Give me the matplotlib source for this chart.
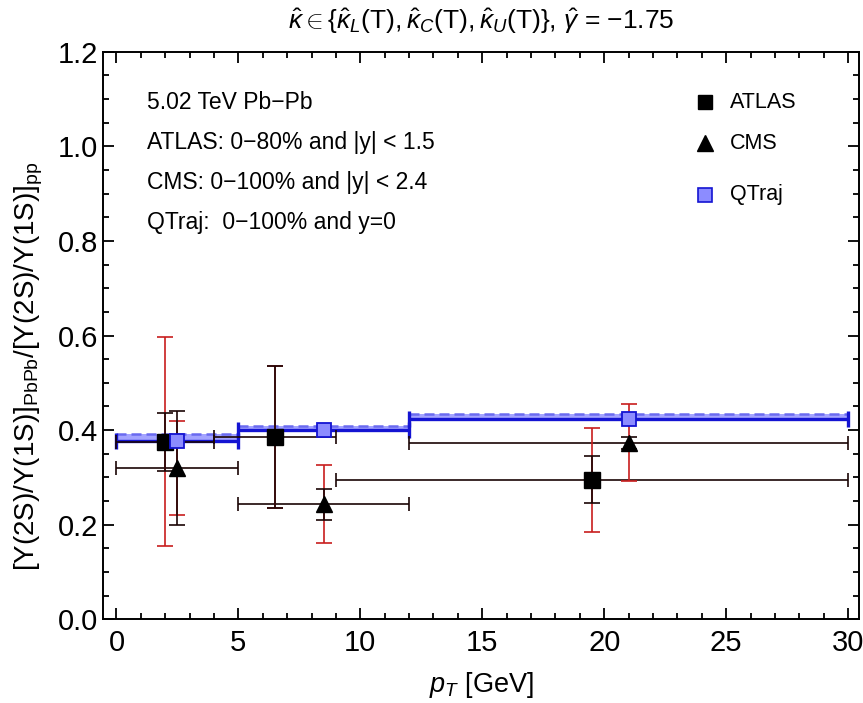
import numpy as np
import matplotlib
matplotlib.use("Agg")
import matplotlib.pyplot as plt
from matplotlib.lines import Line2D

plt.rcParams["font.family"] = ["Liberation Sans", "DejaVu Sans"]
plt.rcParams["mathtext.fontset"] = "custom"
plt.rcParams["mathtext.rm"] = "Liberation Sans"
plt.rcParams["mathtext.it"] = "Liberation Sans:italic"
plt.rcParams["mathtext.bf"] = "Liberation Sans:bold"

# ATLAS (0-80%, |y|<1.5)
atlas_pt = [2.0, 6.5, 19.5]
atlas_lo = [0.0, 4.0, 9.0]
atlas_hi = [4.0, 9.0, 30.0]
atlas_val = [0.375, 0.386, 0.295]
atlas_stat_up = [0.436, 0.536, 0.345]
atlas_stat_dn = [0.314, 0.236, 0.245]
atlas_sys_up = [0.596, 0.536, 0.405]
atlas_sys_dn = [0.155, 0.236, 0.185]

# CMS (0-100%, |y|<2.4)
cms_pt = [2.5, 8.5, 21.0]
cms_lo = [0.0, 5.0, 12.0]
cms_hi = [5.0, 12.0, 30.0]
cms_val = [0.320, 0.244, 0.373]
cms_stat_up = [0.440, 0.275, 0.385]
cms_stat_dn = [0.199, 0.211, 0.361]
cms_sys_up = [0.420, 0.326, 0.455]
cms_sys_dn = [0.220, 0.161, 0.293]

# QTraj band (lower / upper edge per bin)
qt_pt = [2.5, 8.5, 21.0]
qt_lo = [0.0, 5.0, 12.0]
qt_hi = [5.0, 12.0, 30.0]
qt_low = [0.378, 0.400, 0.423]
qt_up = [0.392, 0.409, 0.434]

info_lines = ["5.02 TeV Pb\u2212Pb",
              "ATLAS: 0\u221280% and |y| < 1.5",
              "CMS: 0\u2212100% and |y| < 2.4",
              "QTraj:  0\u2212100% and y=0"]

RED = "#c81e1e"
DARK = "#1a0505"
BLUE = "#1414d2"
LIGHT = "#8c8cff"

fig = plt.figure(figsize=(8.63, 7.03), dpi=100)
ax = fig.add_axes([0.1194, 0.119, 0.876, 0.8075])


def xerr_of(x, lo, hi):
    x = np.asarray(x); lo = np.asarray(lo); hi = np.asarray(hi)
    return np.vstack([x - lo, hi - x])


def yerr_of(v, dn, up):
    v = np.asarray(v); dn = np.asarray(dn); up = np.asarray(up)
    return np.vstack([v - dn, up - v])


# QTraj band
for lo, hi, a, b in zip(qt_lo, qt_hi, qt_low, qt_up):
    ax.fill_between([lo, hi], [a, a], [b, b], color=LIGHT, alpha=0.8, lw=0, zorder=2)
    ax.plot([lo, hi], [b, b], color="#6a6af0", lw=1.8, ls=(0, (4, 2)), zorder=3)
ax.errorbar(qt_pt, qt_low, xerr=xerr_of(qt_pt, qt_lo, qt_hi), fmt="none",
            ecolor=BLUE, elinewidth=2.4, capsize=6, capthick=2.4, zorder=3)

# Horizontal bin widths
ax.errorbar(atlas_pt, atlas_val, xerr=xerr_of(atlas_pt, atlas_lo, atlas_hi), fmt="none",
            ecolor=DARK, elinewidth=1.2, capsize=5, capthick=1.2, zorder=4)
ax.errorbar(cms_pt, cms_val, xerr=xerr_of(cms_pt, cms_lo, cms_hi), fmt="none",
            ecolor=DARK, elinewidth=1.2, capsize=5, capthick=1.2, zorder=4)

# Systematic (red) and statistical (black) uncertainties
for pt, v, dn, up in [(atlas_pt, atlas_val, atlas_sys_dn, atlas_sys_up),
                      (cms_pt, cms_val, cms_sys_dn, cms_sys_up)]:
    ax.errorbar(pt, v, yerr=yerr_of(v, dn, up), fmt="none", ecolor=RED,
                elinewidth=1.2, capsize=6, capthick=1.2, zorder=5)
for pt, v, dn, up in [(atlas_pt, atlas_val, atlas_stat_dn, atlas_stat_up),
                      (cms_pt, cms_val, cms_stat_dn, cms_stat_up)]:
    ax.errorbar(pt, v, yerr=yerr_of(v, dn, up), fmt="none", ecolor=DARK,
                elinewidth=1.2, capsize=6, capthick=1.2, zorder=6)

ax.plot(atlas_pt, atlas_val, "s", color="black", ms=11, zorder=7)
ax.plot(cms_pt, cms_val, "^", color="black", ms=12, zorder=7)
ax.plot(qt_pt, qt_low, "s", mfc=LIGHT, mec=BLUE, mew=1.3, ms=9.5, zorder=8)

ax.set_xlim(-0.55, 30.45)
ax.set_ylim(0.0, 1.2)
ax.set_xticks(np.arange(0, 31, 5))
ax.set_xticks(np.arange(0, 31, 1), minor=True)
ax.set_yticks(np.arange(0, 1.21, 0.2))
ax.set_yticks(np.arange(0, 1.21, 0.05), minor=True)
ax.yaxis.set_major_formatter(matplotlib.ticker.FormatStrFormatter("%.1f"))
ax.tick_params(which="both", direction="in", top=True, right=True,
               labelsize=21, width=1.3, colors="black")
ax.tick_params(which="major", length=8)
ax.tick_params(which="minor", length=4.5)
ax.tick_params(axis="x", pad=7)
for s in ax.spines.values():
    s.set_linewidth(1.4)

ax.set_xlabel(r"$p_T$ [GeV]", fontsize=19.5, labelpad=9)
ax.set_ylabel(r"[Υ(2S)/Υ(1S)]$_{\mathrm{PbPb}}$/[Υ(2S)/Υ(1S)]$_{\mathrm{pp}}$",
              fontsize=20)
ax.yaxis.set_label_coords(-0.077, 0.445)
ax.set_title(r"$\hat{\kappa} \in \{\hat{\kappa}_L(\mathrm{T}),\hat{\kappa}_C(\mathrm{T}),"
             r"\hat{\kappa}_U(\mathrm{T})\}$, $\hat{\gamma}$ = −1.75",
             fontsize=19, pad=16)

for i, line in enumerate(info_lines):
    ax.text(0.058, 0.911 - i * 0.0705, line, transform=ax.transAxes,
            fontsize=16.5, va="center", ha="left")

# Legend entries
leg_items = [("ATLAS", dict(marker="s", color="black", ms=10), 0.911),
             ("CMS", dict(marker="^", color="black", ms=11), 0.839),
             ("QTraj", dict(marker="s", mfc=LIGHT, mec=BLUE, mew=1.2, ms=10.5), 0.748)]
for label, style, yy in leg_items:
    ax.add_line(Line2D([0.796], [yy], transform=ax.transAxes, ls="none", **style))
    ax.text(0.829, yy, label, transform=ax.transAxes, fontsize=15.5, va="center")

fig.savefig("out.png", dpi=100)
